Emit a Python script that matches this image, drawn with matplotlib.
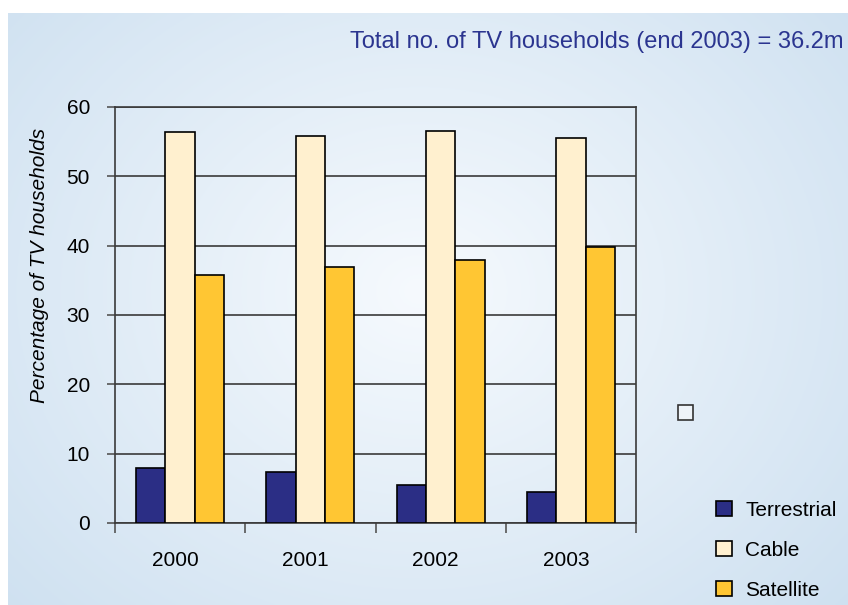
import numpy as np
import matplotlib.pyplot as plt
import matplotlib.transforms as mtransforms
from matplotlib.patches import Patch, Rectangle

plt.rcParams['font.family'] = ['Liberation Sans', 'DejaVu Sans']

# share of TV households by platform (%)
years = ['2000', '2001', '2002', '2003']
terrestrial = [8.0, 7.4, 5.5, 4.5]
cable = [56.4, 55.8, 56.6, 55.5]
satellite = [35.7, 36.9, 38.0, 39.8]
series_names = ['Terrestrial', 'Cable', 'Satellite']
colours = ['#2b2e85', '#fff0cf', '#ffc633']
note = 'Total no. of TV households (end 2003) = 36.2m'

W, H = 848, 605
fig = plt.figure(figsize=(W / 100, H / 100), dpi=100)
fig.patch.set_facecolor('white')

# soft radial background panel (white strip along top and left)
bg = fig.add_axes([8 / W, 0, 1 - 8 / W, 1 - 13 / H], zorder=-10)
gx, gy = np.meshgrid(np.linspace(0, 1, 400), np.linspace(0, 1, 300))
r = np.sqrt(((gx - 0.49) / 0.72) ** 2 + ((gy - 0.47) / 0.85) ** 2)
r = np.clip(r, 0, 1)
c_in = np.array([0.965, 0.98, 0.995])
c_out = np.array([0.80, 0.875, 0.94])
img = c_in[None, None, :] * (1 - r[..., None]) + c_out[None, None, :] * r[..., None]
bg.imshow(img, aspect='auto', extent=[0, 1, 0, 1], origin='upper')
bg.axis('off')

ax = fig.add_axes([115 / W, 1 - 523 / H, (636 - 115) / W, (523 - 107) / H])
ax.set_facecolor('none')

x = np.arange(len(years))
w = 0.225
for i, (vals, col) in enumerate(zip([terrestrial, cable, satellite], colours)):
    ax.bar(x + (i - 1) * w, vals, w, color=col, edgecolor='black',
           linewidth=1.2, zorder=3)

ax.set_xlim(-0.5, 3.5)
ax.set_ylim(0, 60)
ax.set_yticks(range(0, 61, 10))
ax.yaxis.grid(True, color='#3a3a3a', linewidth=1.2, zorder=0)
ax.set_xticks(x)
ax.set_xticklabels(years, fontsize=15)
ax.tick_params(axis='x', length=0, pad=20)
# year labels sit a little left of the group centres
shift = mtransforms.ScaledTranslation(-5 / 100, 0, fig.dpi_scale_trans)
for lbl in ax.get_xticklabels():
    lbl.set_transform(lbl.get_transform() + shift)
ax.set_xticks(np.arange(-0.5, 4, 1), minor=True)
ax.tick_params(axis='x', which='minor', length=7, width=1.2, color='#555555', direction='out')
ax.tick_params(axis='y', labelsize=15, length=6, width=1.2, color='#555555', pad=12)
for s in ax.spines.values():
    s.set_color('#3a3a3a')
    s.set_linewidth(1.2)

fig.text(40 / W, 1 - 265 / H, 'Percentage of TV households', rotation=90,
         ha='center', va='center', fontsize=15, style='italic')
fig.text(843 / W, 1 - 42 / H, note, ha='right', va='center', fontsize=17, color='#2b3590')

# legend at lower right
handles = [Patch(facecolor=c, edgecolor='black', linewidth=1.2) for c in colours]
fig.legend(handles, series_names, loc='upper left', bbox_to_anchor=(716 / W, 1 - 501 / H),
           frameon=False, fontsize=15, handlelength=0.75, handleheight=0.75,
           handletextpad=0.65, labelspacing=1.0, borderaxespad=0, borderpad=0)

# empty marker box left of the legend
fig.patches.append(Rectangle((678 / W, 1 - 420 / H), 15 / W, 15 / H,
                             transform=fig.transFigure, facecolor='#eef3f8',
                             edgecolor='#333333', linewidth=1.2))

fig.savefig('out.png', dpi=100)
